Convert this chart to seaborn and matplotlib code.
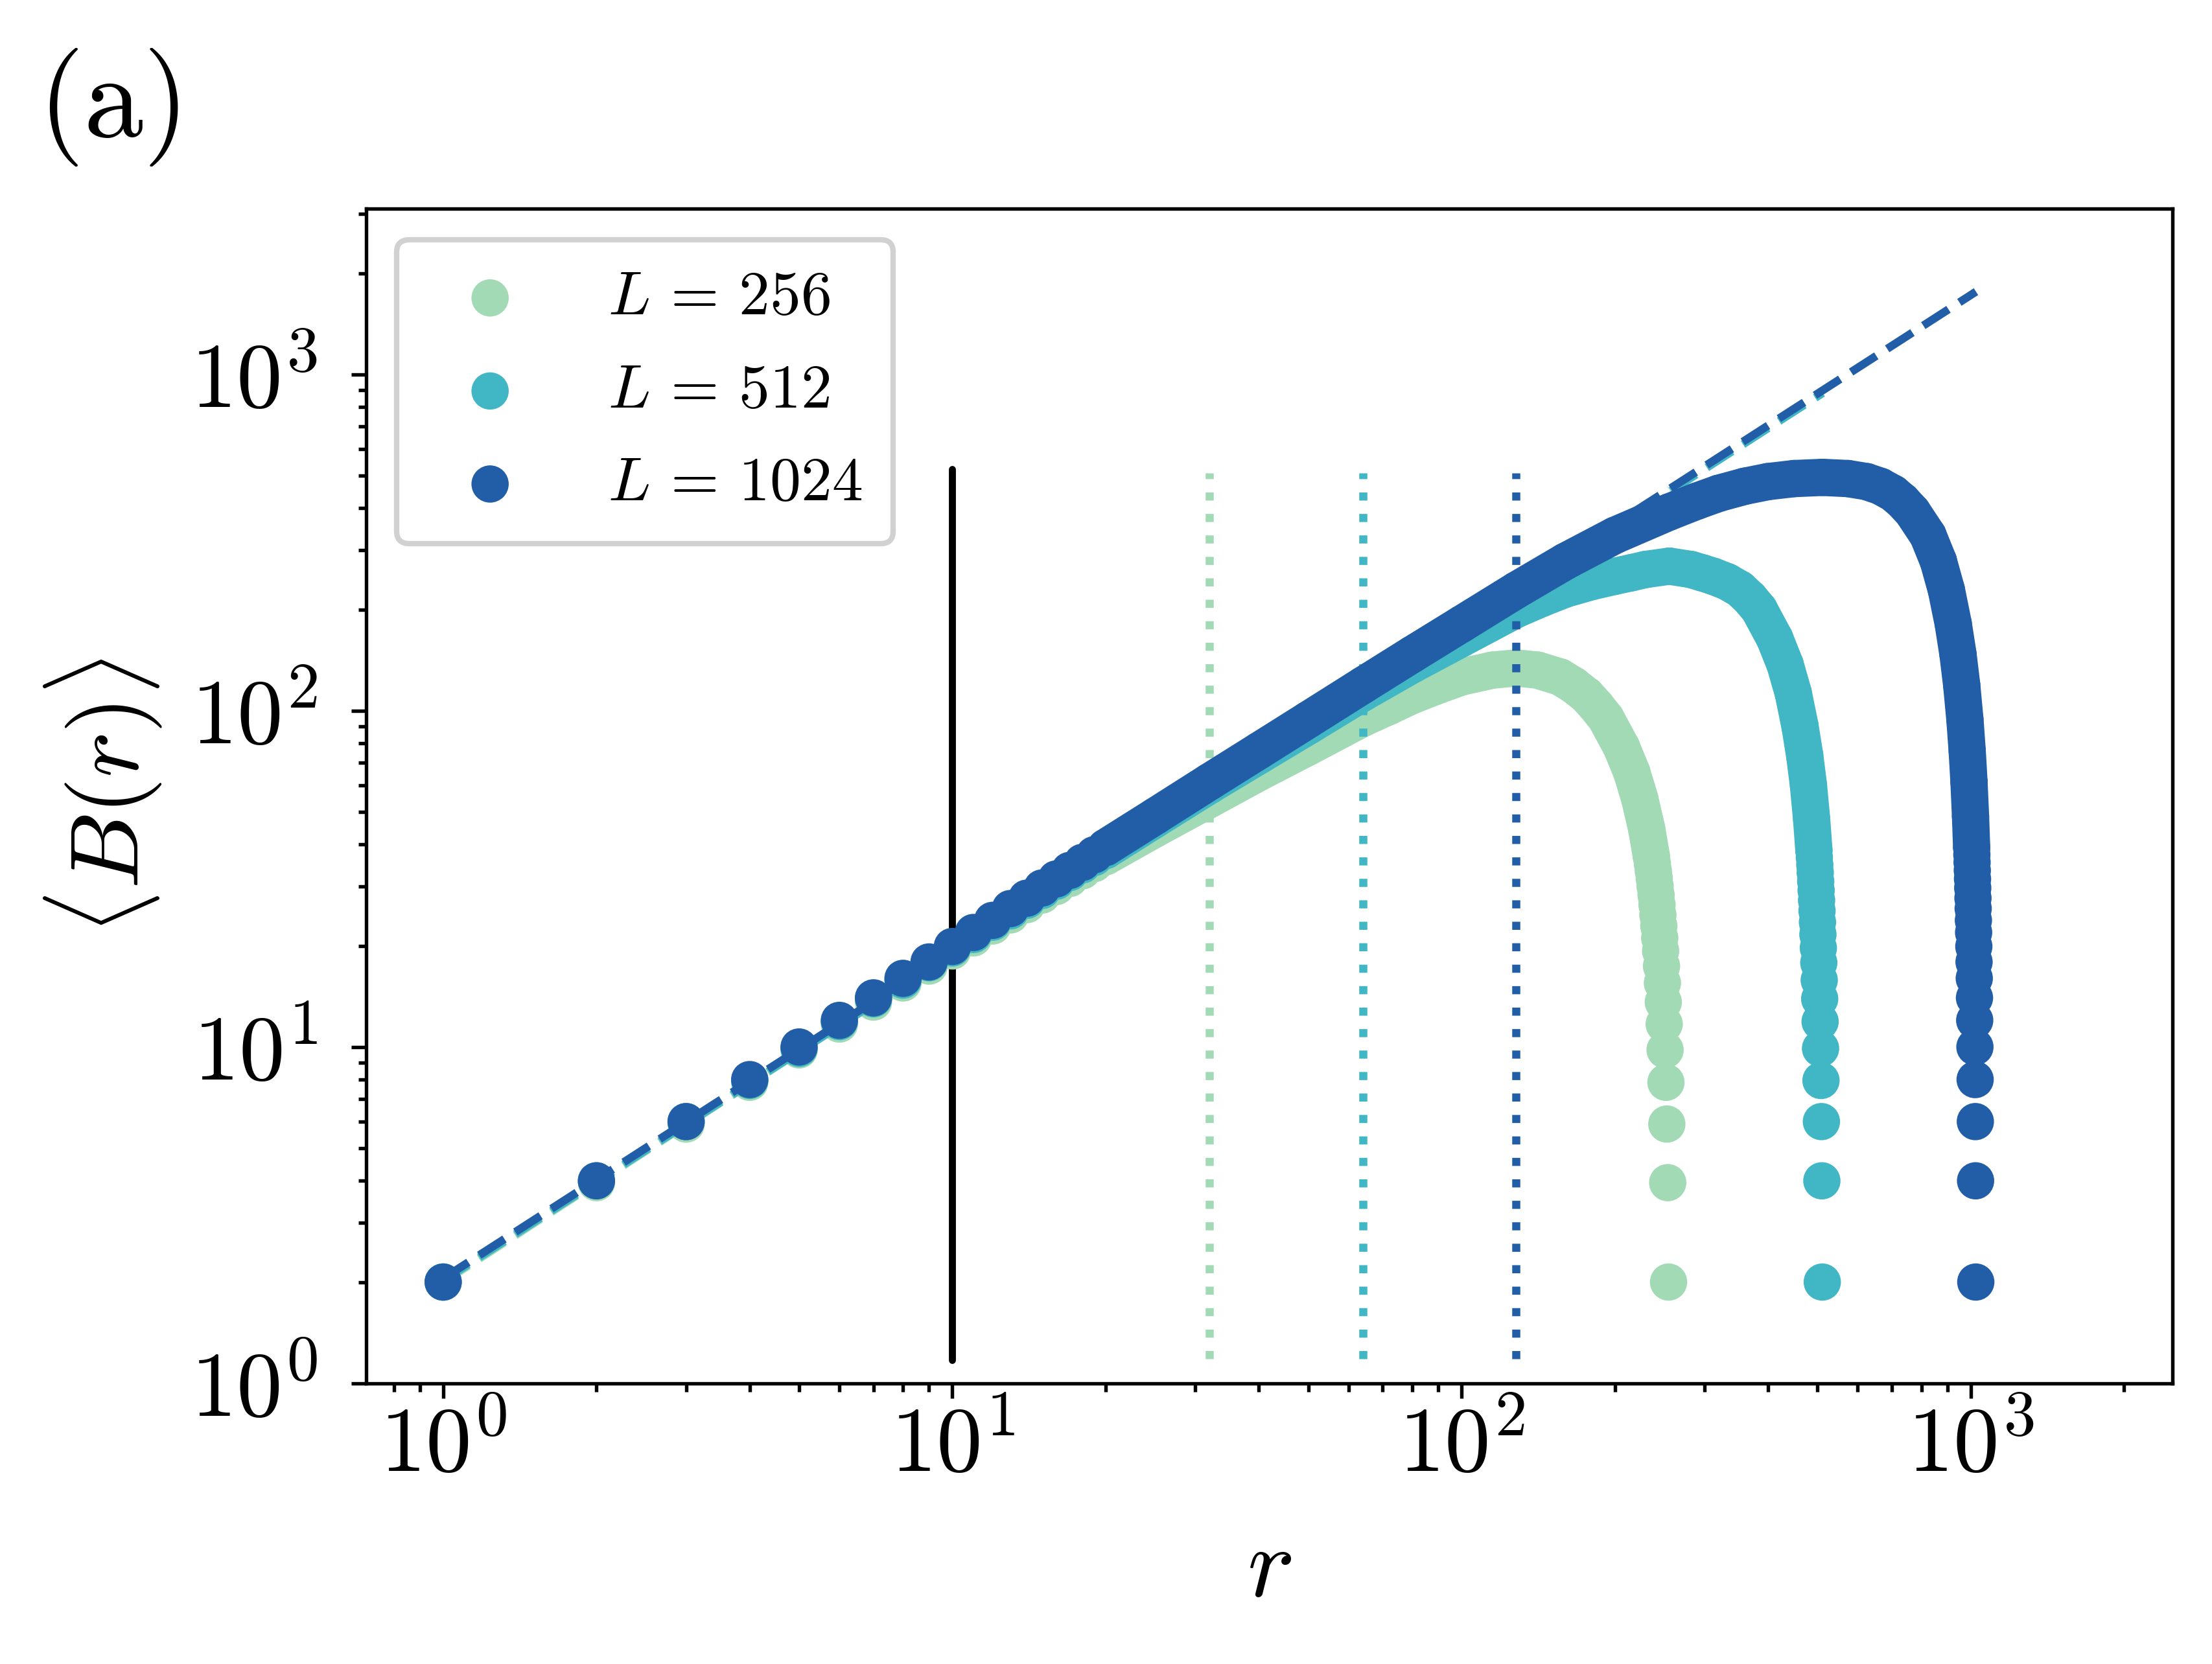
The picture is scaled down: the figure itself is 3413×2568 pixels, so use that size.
import numpy as np
import pandas as pd
import matplotlib
matplotlib.use('Agg')
import matplotlib.pyplot as plt
import seaborn as sns

# readings taken off the figure: r and <B(r)> for the three system sizes
sizes = [256, 512, 1024]
colors = ['#a1dab4', '#41b6c4', '#225ea8']

r_256 = [1, 2, 3, 4, 5, 6, 7, 8, 9, 10, 11, 12, 13, 14, 15, 16, 17, 18, 19, 20,
         25, 32, 40, 50, 64, 72, 80, 90, 100, 115, 128, 141, 156, 166, 176, 184, 192,
         206, 216, 224, 231,
         236, 237, 238, 239, 240, 241, 242, 243, 244, 245, 246, 247, 248, 249, 250,
         251, 252, 253, 254, 255]
B_256 = [2.0, 3.95, 5.9, 7.85, 9.8, 11.7, 13.6, 15.5, 17.4, 19.3, 21.1, 22.9, 24.7,
         26.5, 28.3, 30.0, 31.7, 33.4, 35.1, 36.8,
         44.5, 54.5, 65.5, 78, 95, 103, 111, 119, 126, 132, 134, 132, 126, 119, 111, 103,
         95, 78, 65.5, 54.5, 44.5,
         36.8, 35.1, 33.4, 31.7, 30.0, 28.3, 26.5, 24.7, 22.9, 21.1, 19.3, 17.4, 15.5,
         13.6, 11.7, 9.8, 7.85, 5.9, 3.95, 2.0]

r_512 = [1, 2, 3, 4, 5, 6, 7, 8, 9, 10, 11, 12, 13, 14, 15, 16, 17, 18, 19, 20,
         25, 32, 40, 50, 64, 80, 100, 128, 144, 160, 180, 200, 215, 230, 256,
         282, 297, 312, 332, 352, 368, 384, 412, 432, 448, 462, 472, 480, 487,
         492, 493, 494, 495, 496, 497, 498, 499, 500, 501, 502, 503, 504, 505, 506,
         507, 508, 509, 510, 511]
B_512 = [2.0, 4.0, 6.0, 7.95, 9.9, 11.9, 13.9, 15.8, 17.8, 19.7, 21.6, 23.5, 25.4,
         27.3, 29.2, 31.1, 33.0, 34.8, 36.6, 38.4,
         47.5, 60, 73.5, 90, 113, 137, 164, 200, 216, 230, 242, 251, 257, 263, 269,
         263, 257, 251, 242, 230, 216, 200, 164, 137, 113, 90, 73.5, 60, 47.5,
         38.4, 36.6, 34.8, 33.0, 31.1, 29.2, 27.3, 25.4, 23.5, 21.6, 19.7, 17.8, 15.8,
         13.9, 11.9, 9.9, 7.95, 6.0, 4.0, 2.0]

r_1024 = [1, 2, 3, 4, 5, 6, 7, 8, 9, 10, 11, 12, 13, 14, 15, 16, 17, 18, 19, 20,
          25, 32, 40, 50, 64, 80, 100, 128, 160, 200, 256, 290, 320, 360, 400, 450, 512,
          574, 624, 664, 704, 734, 768, 824, 864, 896, 924, 944, 960, 974, 984, 992, 999,
          1004, 1005, 1006, 1007, 1008, 1009, 1010, 1011, 1012, 1013, 1014, 1015,
          1016, 1017, 1018, 1019, 1020, 1021, 1022, 1023]
B_1024 = [2.0, 4.0, 6.0, 8.0, 10.0, 12.0, 14.0, 16.0, 17.9, 19.9, 21.9, 23.8, 25.8,
          27.7, 29.7, 31.6, 33.5, 35.4, 37.3, 39.2,
          48.5, 61.5, 76, 94, 119, 147, 181, 228, 278, 332, 390, 420, 443, 465, 480, 490, 494,
          490, 480, 465, 443, 420, 390, 332, 278, 228, 181, 147, 119, 94, 76, 61.5, 48.5,
          39.2, 37.3, 35.4, 33.5, 31.6, 29.7, 27.7, 25.8, 23.8, 21.9, 19.9, 17.9, 16.0,
          14.0, 12.0, 10.0, 8.0, 6.0, 4.0, 2.0]

# power-law guide lines, end points
fit_r = {256: [1, 256], 512: [1, 512], 1024: [1, 1024]}
fit_B = {256: [2.0, 455], 512: [2.02, 880], 1024: [2.05, 1762]}

# crossover markers
r_cut = 10
r_scale = {256: 32, 512: 64, 1024: 128}

series = {256: (r_256, B_256), 512: (r_512, B_512), 1024: (r_1024, B_1024)}

sns.set_theme(style='ticks')
plt.rcParams.update({
    'font.family': 'serif',
    'font.serif': ['cmr10'],
    'mathtext.fontset': 'cm',
    'axes.formatter.use_mathtext': True,
    'axes.unicode_minus': False,
    'axes.edgecolor': 'black',
    'axes.linewidth': 1.3,
    'text.color': 'black',
    'axes.labelcolor': 'black',
    'xtick.color': 'black',
    'ytick.color': 'black',
})

fig = plt.figure(figsize=(3413 / 300, 2568 / 300), dpi=300)
ax = fig.add_axes([0.1654, 0.1687, 0.8167, 0.7059])
ax.set_xscale('log')
ax.set_yscale('log')

ax.axvline(r_cut, ymin=0.02, ymax=0.778, color='black', lw=2.6, zorder=1)

msize = 13.8
z = 2
for L, col in zip(sizes, colors):
    r, B = series[L]
    df = pd.DataFrame({'r': r, 'B': B})
    dense = df[(df['r'] >= 20) & (df['r'] <= L - 20)]
    sns.lineplot(data=dense, x='r', y='B', ax=ax, color=col, lw=msize,
                 estimator=None, sort=False, solid_capstyle='round',
                 solid_joinstyle='round', zorder=z)
    sns.scatterplot(data=df, x='r', y='B', ax=ax, color=col, s=msize ** 2,
                    linewidth=0, edgecolor='none', label=r'$L\,=\,%d$' % L, zorder=z + 0.1)
    ax.plot(fit_r[L], fit_B[L], ls='--', color=col, lw=3, zorder=z + 0.2)
    ax.axvline(r_scale[L], ymin=0.021, ymax=0.775, color=col, ls=':', lw=3, zorder=z + 0.3)
    z += 1

ax.set_xlim(0.705, 2489)
ax.set_ylim(1, 3110)

ax.tick_params(which='both', direction='out', width=1.3, labelsize=34,
               top=False, right=False)
ax.tick_params(which='major', length=5.5)
ax.tick_params(which='minor', length=3)
ax.tick_params(axis='x', which='major', pad=2.5)
ax.tick_params(axis='y', which='major', pad=12.5)
ax.xaxis.set_major_locator(matplotlib.ticker.LogLocator(base=10, numticks=10))
ax.xaxis.set_minor_locator(matplotlib.ticker.LogLocator(base=10, subs=np.arange(2, 10), numticks=20))
ax.yaxis.set_minor_locator(matplotlib.ticker.LogLocator(base=10, subs=np.arange(2, 10), numticks=20))

ax.set_xlabel(r'$r$', fontsize=37, labelpad=14)
ax.set_ylabel(r'$\langle B(r)\rangle$', fontsize=36, labelpad=10)

leg = ax.legend(loc='upper left', fontsize=23, frameon=True, edgecolor='0.82',
                fancybox=True, framealpha=1.0, scatterpoints=1,
                labelspacing=0.6, borderpad=0.5, handletextpad=0.9)
leg.get_frame().set_linewidth(2)

fig.text(0.017, 0.918, r'(a)', fontsize=44, va='baseline', ha='left')

fig.savefig('out.png', dpi=300)
